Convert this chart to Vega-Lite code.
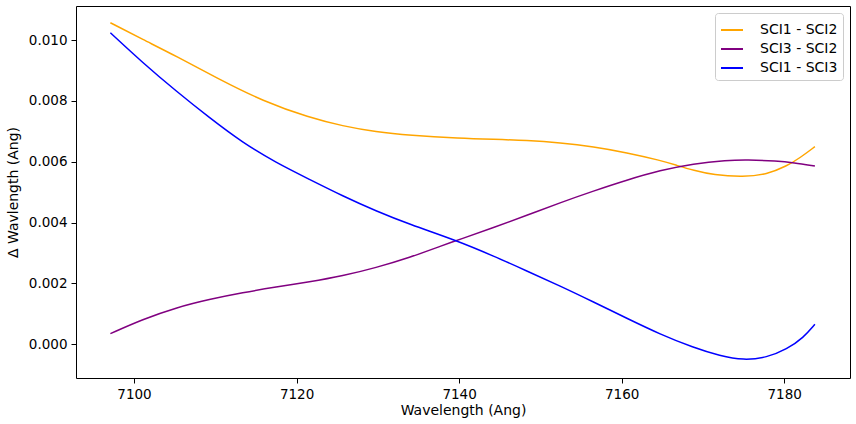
{
  "$schema": "https://vega.github.io/schema/vega-lite/v6.json",
  "width": 774,
  "height": 372,
  "autosize": {"type": "none"},
  "padding": {"left": 76, "top": 6, "right": 6, "bottom": 46},
  "background": "white",
  "config": {
    "font": "DejaVu Sans",
    "view": {"stroke": "black", "strokeWidth": 1},
    "axis": {
      "grid": false,
      "domain": false,
      "tickColor": "black",
      "tickSize": 5,
      "labelFontSize": 13.5,
      "labelColor": "black",
      "titleFontSize": 14,
      "titleFontWeight": "normal",
      "titleColor": "black",
      "labelPadding": 4
    }
  },
  "data": {
    "values": [
      {"x": 7097.09, "y": 0.01057, "s": "SCI1 - SCI2"},
      {"x": 7101.07, "y": 0.01002, "s": "SCI1 - SCI2"},
      {"x": 7105.17, "y": 0.009474, "s": "SCI1 - SCI2"},
      {"x": 7110.50, "y": 0.008707, "s": "SCI1 - SCI2"},
      {"x": 7115.84, "y": 0.007995, "s": "SCI1 - SCI2"},
      {"x": 7121.58, "y": 0.007448, "s": "SCI1 - SCI2"},
      {"x": 7125.68, "y": 0.007174, "s": "SCI1 - SCI2"},
      {"x": 7129.78, "y": 0.006977, "s": "SCI1 - SCI2"},
      {"x": 7133.89, "y": 0.006867, "s": "SCI1 - SCI2"},
      {"x": 7140.12, "y": 0.006769, "s": "SCI1 - SCI2"},
      {"x": 7144.23, "y": 0.006736, "s": "SCI1 - SCI2"},
      {"x": 7148.33, "y": 0.006703, "s": "SCI1 - SCI2"},
      {"x": 7152.43, "y": 0.006626, "s": "SCI1 - SCI2"},
      {"x": 7156.53, "y": 0.006495, "s": "SCI1 - SCI2"},
      {"x": 7160.64, "y": 0.006298, "s": "SCI1 - SCI2"},
      {"x": 7164.74, "y": 0.006046, "s": "SCI1 - SCI2"},
      {"x": 7166.79, "y": 0.005881, "s": "SCI1 - SCI2"},
      {"x": 7168.84, "y": 0.005717, "s": "SCI1 - SCI2"},
      {"x": 7171.30, "y": 0.005564, "s": "SCI1 - SCI2"},
      {"x": 7174.99, "y": 0.005498, "s": "SCI1 - SCI2"},
      {"x": 7177.87, "y": 0.005585, "s": "SCI1 - SCI2"},
      {"x": 7180.33, "y": 0.005859, "s": "SCI1 - SCI2"},
      {"x": 7181.97, "y": 0.006133, "s": "SCI1 - SCI2"},
      {"x": 7183.78, "y": 0.006495, "s": "SCI1 - SCI2"},

      {"x": 7097.09, "y": 0.000349, "s": "SCI3 - SCI2"},
      {"x": 7101.07, "y": 0.000820, "s": "SCI3 - SCI2"},
      {"x": 7105.17, "y": 0.001204, "s": "SCI3 - SCI2"},
      {"x": 7109.27, "y": 0.001478, "s": "SCI3 - SCI2"},
      {"x": 7113.37, "y": 0.001697, "s": "SCI3 - SCI2"},
      {"x": 7117.48, "y": 0.001883, "s": "SCI3 - SCI2"},
      {"x": 7121.58, "y": 0.002047, "s": "SCI3 - SCI2"},
      {"x": 7125.68, "y": 0.002245, "s": "SCI3 - SCI2"},
      {"x": 7129.78, "y": 0.002518, "s": "SCI3 - SCI2"},
      {"x": 7133.89, "y": 0.002847, "s": "SCI3 - SCI2"},
      {"x": 7137.99, "y": 0.003252, "s": "SCI3 - SCI2"},
      {"x": 7140.12, "y": 0.003449, "s": "SCI3 - SCI2"},
      {"x": 7144.23, "y": 0.003833, "s": "SCI3 - SCI2"},
      {"x": 7148.33, "y": 0.004238, "s": "SCI3 - SCI2"},
      {"x": 7152.43, "y": 0.004654, "s": "SCI3 - SCI2"},
      {"x": 7156.53, "y": 0.005038, "s": "SCI3 - SCI2"},
      {"x": 7160.64, "y": 0.005399, "s": "SCI3 - SCI2"},
      {"x": 7164.74, "y": 0.005717, "s": "SCI3 - SCI2"},
      {"x": 7168.84, "y": 0.005936, "s": "SCI3 - SCI2"},
      {"x": 7172.94, "y": 0.006046, "s": "SCI3 - SCI2"},
      {"x": 7175.40, "y": 0.006067, "s": "SCI3 - SCI2"},
      {"x": 7179.10, "y": 0.006024, "s": "SCI3 - SCI2"},
      {"x": 7181.15, "y": 0.005969, "s": "SCI3 - SCI2"},
      {"x": 7183.78, "y": 0.005859, "s": "SCI3 - SCI2"},

      {"x": 7097.09, "y": 0.010241, "s": "SCI1 - SCI3"},
      {"x": 7101.07, "y": 0.009255, "s": "SCI1 - SCI3"},
      {"x": 7105.17, "y": 0.008324, "s": "SCI1 - SCI3"},
      {"x": 7109.27, "y": 0.007448, "s": "SCI1 - SCI3"},
      {"x": 7113.37, "y": 0.006626, "s": "SCI1 - SCI3"},
      {"x": 7117.48, "y": 0.005969, "s": "SCI1 - SCI3"},
      {"x": 7121.58, "y": 0.005421, "s": "SCI1 - SCI3"},
      {"x": 7125.68, "y": 0.004873, "s": "SCI1 - SCI3"},
      {"x": 7129.78, "y": 0.004381, "s": "SCI1 - SCI3"},
      {"x": 7133.89, "y": 0.003942, "s": "SCI1 - SCI3"},
      {"x": 7139.63, "y": 0.003417, "s": "SCI1 - SCI3"},
      {"x": 7144.23, "y": 0.002902, "s": "SCI1 - SCI3"},
      {"x": 7148.33, "y": 0.002409, "s": "SCI1 - SCI3"},
      {"x": 7152.43, "y": 0.001916, "s": "SCI1 - SCI3"},
      {"x": 7156.53, "y": 0.001390, "s": "SCI1 - SCI3"},
      {"x": 7160.64, "y": 0.000853, "s": "SCI1 - SCI3"},
      {"x": 7164.74, "y": 0.000328, "s": "SCI1 - SCI3"},
      {"x": 7168.84, "y": -0.000111, "s": "SCI1 - SCI3"},
      {"x": 7172.12, "y": -0.000384, "s": "SCI1 - SCI3"},
      {"x": 7174.99, "y": -0.000527, "s": "SCI1 - SCI3"},
      {"x": 7177.87, "y": -0.000439, "s": "SCI1 - SCI3"},
      {"x": 7180.33, "y": -0.000165, "s": "SCI1 - SCI3"},
      {"x": 7182.38, "y": 0.000218, "s": "SCI1 - SCI3"},
      {"x": 7183.78, "y": 0.000656, "s": "SCI1 - SCI3"}
    ]
  },
  "mark": {"type": "line", "interpolate": "basis", "strokeWidth": 1.5, "clip": true},
  "encoding": {
    "x": {
      "field": "x",
      "type": "quantitative",
      "title": "Wavelength (Ang)",
      "scale": {"domain": [7092.86, 7188.1], "nice": false, "zero": false},
      "axis": {"values": [7100, 7120, 7140, 7160, 7180], "format": "d", "titlePadding": 3}
    },
    "y": {
      "field": "y",
      "type": "quantitative",
      "title": "Δ Wavlength (Ang)",
      "scale": {"domain": [-0.00111, 0.01112], "nice": false, "zero": false},
      "axis": {"values": [0, 0.002, 0.004, 0.006, 0.008, 0.01], "format": ".3f", "titlePadding": 8}
    },
    "color": {
      "field": "s",
      "type": "nominal",
      "scale": {
        "domain": ["SCI1 - SCI2", "SCI3 - SCI2", "SCI1 - SCI3"],
        "range": ["orange", "purple", "blue"]
      },
      "legend": {
        "title": null,
        "orient": "top-right",
        "offset": 7,
        "symbolType": "stroke",
        "symbolSize": 484,
        "symbolStrokeWidth": 2,
        "labelFontSize": 14,
        "labelColor": "black",
        "labelOffset": 16,
        "rowPadding": 0,
        "padding": 5,
        "strokeColor": "#cccccc",
        "fillColor": "white",
        "cornerRadius": 3
      }
    }
  }
}
